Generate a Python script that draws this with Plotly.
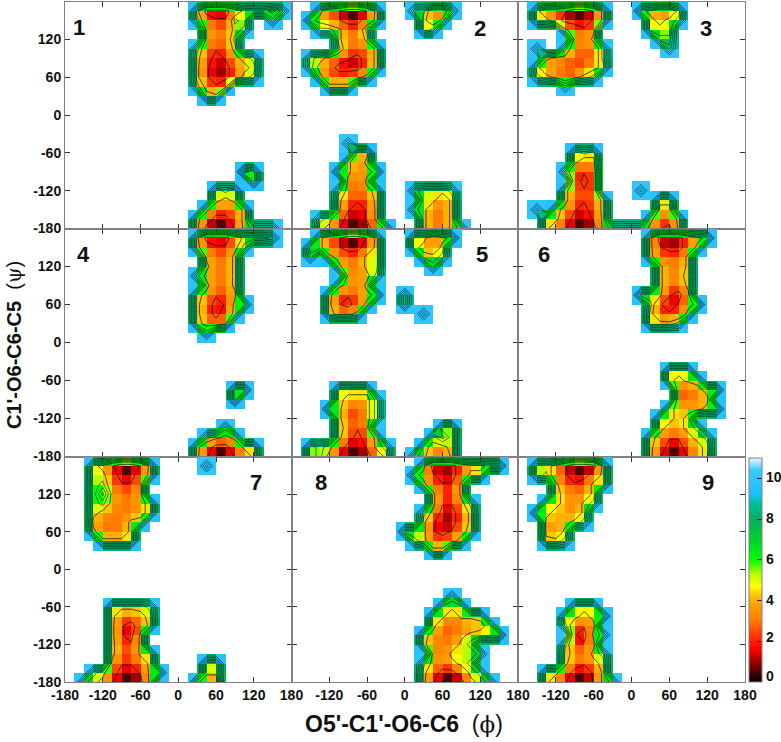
import plotly.graph_objects as go

# Energy maps on the 15 degree grid, top row is psi=+180, left column phi=-180.
# digit = value, "." = no data (fill value 11). Blocks of five columns for legibility.
E = "..... ..... ..... ..... ....."
PANEL_1 = [E,
 "..... ..... ....5 11135 5546.", "..... ..... ....6 32265 ..6..", "..... ..... ..... 43356 .....",
 "..... ..... ..... 4336. .....", "..... ..... ....6 3235. .....", "..... ..... ....5 31245 6....",
 "..... ..... ....5 21134 5....", "..... ..... ....5 21135 6....", "..... ..... ....6 424.. .....",
 "..... ..... ..... 55... .....", E, E, E, E, E, E, E,
 "..... ..... ..... ....4 5....", "..... ..... ..... ..... 5....", "..... ..... ..... .565. .....",
 "..... ..... ..... .545. .....", "..... ..... ..... 53335 .....", "..... ..... ....5 31135 .....",
 "..... ..... ....5 10025 666.."]
PANEL_2 = [E,
 "...53 20025 ...66 336.. .....", "..543 21135 ....5 35... .....", "...66 5336. ....5 6.... .....",
 "..... 5335. ..... ..... .....", "..... 63335 ..... ..... .....", "..654 32135 ..... ..... .....",
 "..643 11135 ..... ..... .....", "...53 3345. ..... ..... .....", "....5 55... ..... ..... .....",
 E, E, E, E, E,
 "..... .7... ..... ..... .....", "..... ..44. ..... ..... .....", "..... .535. ..... ..... .....",
 "..... 55345 ..... ..... .....", "..... .425. ..... ..... .....", "..... 64245 ...65 556.. .....",
 "..... 53235 ....5 535.. .....", "..... 52125 ...65 335.. .....", "...65 31125 ....5 335.. .....",
 "...54 20013 5...5 3356. ....."]
PANEL_3 = [E,
 "..533 20025 ...54 335.. .....", "..553 11125 ....5 456.. .....", "..... 5324. ....5 55... .....",
 "..... .435. ..... 66... .....", "..7.. 63336 ..... .7... .....", "...54 43236 ..... ..... .....",
 "..533 22345 ..... ..... .....", "..654 3456. ..... ..... .....", "..... 7.... ..... ..... .....",
 E, E, E, E, E, E,
 "..... .565. ..... ..... .....", "..... .534. ..... ..... .....", "..... 6223. ..... ..... .....",
 "..... .313. ..... ..... .....", "..... 5323. ...7. ..... .....", "..... 53235 ..... 55... .....",
 "..7.5 42135 ..... 44... .....", "...55 31125 ....5 335.. .....", "...53 20015 66664 215.. ....."]
PANEL_4 = [E,
 "..... ..... ....5 11135 556..", "..... ..... ....5 32246 .....", "..... ..... ..... 4335. .....",
 "..... ..... ..... 5335. .....", "..... ..... ....6 4335. .....", "..... ..... ..... 5335. .....",
 "..... ..... ....5 4234. .....", "..... ..... ....5 31255 .....", "..... ..... ....5 3135. .....",
 "..... ..... ....5 434.. .....", "..... ..... ..... 6.... .....", E, E, E, E, E,
 "..... ..... ..... ...55 .....", "..... ..... ..... ...5. .....", E, E,
 "..... ..... ..... ..6.. .....", "..... ..... ..... 6545. .....", "..... ..... ....5 31135 5....",
 "..... ..... ....5 20023 5...."]
PANEL_5 = [E,
 "...53 20025 ...55 345.. .....", "..553 21135 ...54 35... .....", "..6.5 43355 ....5 56... .....",
 "..... 53355 ..... 6.... .....", "..... .4346 ..... ..... .....", "..... 5435. ..... ..... .....",
 "....5 32345 ..6.. ..... .....", "....5 2135. ..6.. ..... .....", "....5 445.. ....7 ..... .....",
 E, E, E, E, E, E, E,
 "..... 5555. ..... ..... .....", "..... 54446 ..... ..... .....", "....5 53246 ..... ..... .....",
 "..... 53246 ..... ..... .....", "..... 5424. ..... .55.. .....", "..... 53135 ..... 575.. .....",
 "..565 31125 6...5 445.. .....", "..564 20013 5..65 325.. ....."]
PANEL_6 = [E,
 "..... ..... ....5 11134 5....", "..... ..... ....5 21135 .....", "..... ..... ....5 3335. .....",
 "..... ..... ..... 5335. .....", "..... ..... ..... 5345. .....", "..... ..... ..... 5335. .....",
 "..... ..... ...55 5214. .....", "..... ..... ....6 21245 .....", "..... ..... ....5 3235. .....",
 "..... ..... ....5 556.. .....", E, E, E, E,
 "..... ..... ..... .555. .....", "..... ..... ..... .5455 .....", "..... ..... ..... ..324 55...",
 "..... ..... ..... ..333 4....", "..... ..... ..... .5444 55...", "..... ..... ..... 5545. .....",
 "..... ..... ..... 54456 .....", "..... ..... ....5 42245 6....", "..... ..... ....5 31134 5....",
 "..... ..... ....5 20024 5...."]
PANEL_7 = [E,
 "...54 20025 ..... 7.... .....", "...55 31135 ..... ..... .....", "...56 3224. ..... ..... .....",
 "...58 4334. ..... ..... .....", "...56 43345 ..... ..... .....", "...54 33345 ..... ..... .....",
 "...43 3355. ..... ..... .....", "...53 335.. ..... ..... .....", "....5 555.. ..... ..... .....",
 E, E, E, E, E, E,
 "..... 55556 ..... ..... .....", "..... 53345 ..... ..... .....", "..... 52135 ..... ..... .....",
 "..... 5215. ..... ..... .....", "..... 5325. ..... ..... .....", "..... 53255 ..... ..... .....",
 "..... 42235 ..... 55... .....", "...65 31125 5.... 55... .....", "..654 20015 ....5 33... ....."]
PANEL_8 = [E,
 "..... ..... ....5 11134 455..", "..... ..... ...54 21135 5....", "..... ..... ....5 3225. .....",
 "..... ..... ..... 5225. .....", "..... ..... ..... 52246 .....", "..... ..... ....6 41135 .....",
 "..... ..... ....5 21135 .....", "..... ..... ..555 21245 .....", "..... ..... ...65 3345. .....",
 "..... ..... ..... 55... .....", E, E, E, E,
 "..... ..... ..... ..6.. .....", "..... ..... ..... .555. .....", "..... ..... ..... 55355 5....",
 "..... ..... ..... 53233 45...", "..... ..... ....5 43345 555..", "..... ..... ....5 33356 .....",
 "..... ..... ..... 43555 6....", "..... ..... ....6 43456 .....", "..... ..... ....5 31135 6....",
 "..... ..... ....5 20014 56..."]
PANEL_9 = [E,
 "..554 20015 ..... ..... .....", "..563 21135 ..... ..... .....", "....5 32355 ..... ..... .....",
 "....5 4335. ..... ..... .....", "...55 4356. ..... ..... .....", "..554 435.. ..... ..... .....",
 "...44 456.. ..... ..... .....", "...43 5.... ..... ..... .....", "...55 6.... ..... ..... .....",
 E, E, E, E, E, E,
 "..... .555. ..... ..... .....", "..... 55455 ..... ..... .....", "..... 6324. ..... ..... .....",
 "..... .2156 ..... ..... .....", "..... 6224. ..... ..... .....", "..... 54356 ..... ..... .....",
 "..... 53245 ..... ..... .....", "...55 31125 ..... ..... .....", "...53 20025 6.... ..... ....."]

PANELS = [PANEL_1, PANEL_2, PANEL_3, PANEL_4, PANEL_5, PANEL_6, PANEL_7, PANEL_8, PANEL_9]
PANEL_LABELS = ["1", "2", "3", "4", "5", "6", "7", "8", "9"]
LABEL_POS_PX = [(79, 28), (480, 29), (706, 29), (83, 255), (482, 255), (544, 255), (256, 482), (321, 482), (708, 482)]
ANGLES = list(range(-180, 181, 15))
TICKS = [-180, -120, -60, 0, 60, 120, 180]
BAR_TICKS = [0, 2, 4, 6, 8, 10]
BAR_LABEL_Y_PX = [676, 637, 600, 559, 518, 477]
FILL = 11

W, H = 781, 742
COL_PX = [(65, 291.5), (291.5, 518), (518, 745)]
ROW_PX = [(1.5, 228.5), (228.5, 456.5), (456.5, 682)]
FONT = "Liberation Sans"

COLORS = [
    (0, "#000000"), (1, "#a00000"), (1.6, "#ff0000"), (2.4, "#ff4000"), (3, "#ff7c00"),
    (3.8, "#ffa000"), (4.3, "#ffc800"), (4.7, "#ffff00"), (5.3, "#b4ff00"), (6, "#00ff00"), (7, "#00d030"),
    (8, "#00b060"), (8.8, "#00c0a0"), (9.2, "#1ec0ff"), (10.4, "#38c8ff"), (11, "#e8fbff"),
]
colorscale = [[v / 11, c] for v, c in COLORS]


def decode(rows):
    out = []
    for row in rows:
        s = row.replace(" ", "")
        out.append([FILL if ch == "." else int(ch) for ch in s])
    return out[::-1]  # ascending psi


def cells(z):
    res = []
    for j in range(len(z) - 1):
        line = []
        for i in range(len(z[0]) - 1):
            m = (z[j][i] + z[j][i + 1] + z[j + 1][i] + z[j + 1][i + 1]) / 4
            line.append(None if m >= FILL else m)
        res.append(line)
    return res


fig = go.Figure()
axes = {}
for n, rows in enumerate(PANELS):
    r, c = divmod(n, 3)
    k = n + 1
    xa, ya = f"x{k}", f"y{k}"
    z = decode(rows)
    fig.add_trace(go.Heatmap(x=ANGLES, y=ANGLES, z=cells(z), coloraxis="coloraxis", xaxis=xa, yaxis=ya,
                             hoverongaps=False, xgap=0, ygap=0))
    for start, end, size, width in [(1.8, 4.5, 2.7, 0.9), (5.6, 9.6, 1, 0.7)]:
        fig.add_trace(go.Contour(x=ANGLES, y=ANGLES, z=z, xaxis=xa, yaxis=ya, showscale=False,
                                 autocontour=False, contours=dict(start=start, end=end, size=size, coloring="none"),
                                 line=dict(color="rgba(0,20,20,0.85)", width=width, smoothing=0),
                                 hoverinfo="skip"))
    x0, x1 = COL_PX[c]
    y0, y1 = ROW_PX[r]
    xticks = TICKS if c == 0 else TICKS[1:]
    ytick = TICKS if r == 0 else TICKS[:-1]
    common = dict(ticks="inside", ticklen=5, tickwidth=1, tickcolor="#333333", mirror="allticks",
                  showline=True, linecolor="#808080", linewidth=1, showgrid=False, zeroline=False,
                  range=[-180, 180], tickfont=dict(family=FONT, size=14, color="#111111", weight="bold"))
    axes[f"xaxis{k}"] = dict(domain=[x0 / W, x1 / W], anchor=ya, tickvals=TICKS,
                             ticktext=[(str(t) if (r == 2 and t in xticks) else "") for t in TICKS],
                             showticklabels=(r == 2), **common)
    axes[f"yaxis{k}"] = dict(domain=[1 - y1 / H, 1 - y0 / H], anchor=xa, tickvals=TICKS,
                             ticktext=[(str(t) if (c == 0 and t in ytick) else "") for t in TICKS],
                             showticklabels=(c == 0), **common)

annots = []
for lab, (px, py) in zip(PANEL_LABELS, LABEL_POS_PX):
    annots.append(dict(text=f"<b>{lab}</b>", x=px / W, y=1 - py / H, xref="paper", yref="paper", showarrow=False,
                       xanchor="center", yanchor="middle", font=dict(family=FONT, size=22, color="#111111")))
for t, py in zip(BAR_TICKS, BAR_LABEL_Y_PX):
    annots.append(dict(text=f"<b>{t}</b>", x=764 / W, y=1 - py / H, xref="paper", yref="paper", showarrow=False,
                       xanchor="left", yanchor="middle", font=dict(family=FONT, size=14, color="#111111")))
annots.append(dict(text="<b>O5'-C1'-O6-C6</b>  (<span style='font-family:DejaVu Serif'>ϕ</span>)", x=404 / W, y=1 - 724 / H,
                   xref="paper", yref="paper", showarrow=False, xanchor="center", yanchor="middle",
                   font=dict(family=FONT, size=23, color="#111111")))
annots.append(dict(text="<b>C1'-O6-C6-C5</b>  (<span style='font-family:DejaVu Serif'>ψ</span>)", x=14 / W, y=1 - 345 / H,
                   xref="paper", yref="paper", showarrow=False, textangle=-90, xanchor="center", yanchor="middle",
                   font=dict(family=FONT, size=20, color="#111111")))

fig.update_layout(
    width=W, height=H, margin=dict(l=0, r=0, t=0, b=0, autoexpand=False), paper_bgcolor="white", plot_bgcolor="white",
    showlegend=False, annotations=annots,
    coloraxis=dict(cmin=0, cmax=11, colorscale=colorscale,
                   colorbar=dict(x=749 / W, xanchor="left", xpad=0, ypad=0, y=1 - 682 / H, yanchor="bottom",
                                 len=(682 - 458) / H, lenmode="fraction", thickness=13, thicknessmode="pixels",
                                 outlinecolor="#808080", outlinewidth=1, tickvals=BAR_TICKS, ticks="inside",
                                 ticklen=5, tickcolor="#222222", showticklabels=False)),
    **axes,
)
fig.write_html("out.html", post_script="document.body.style.margin='0';", config=dict(displayModeBar=False))
